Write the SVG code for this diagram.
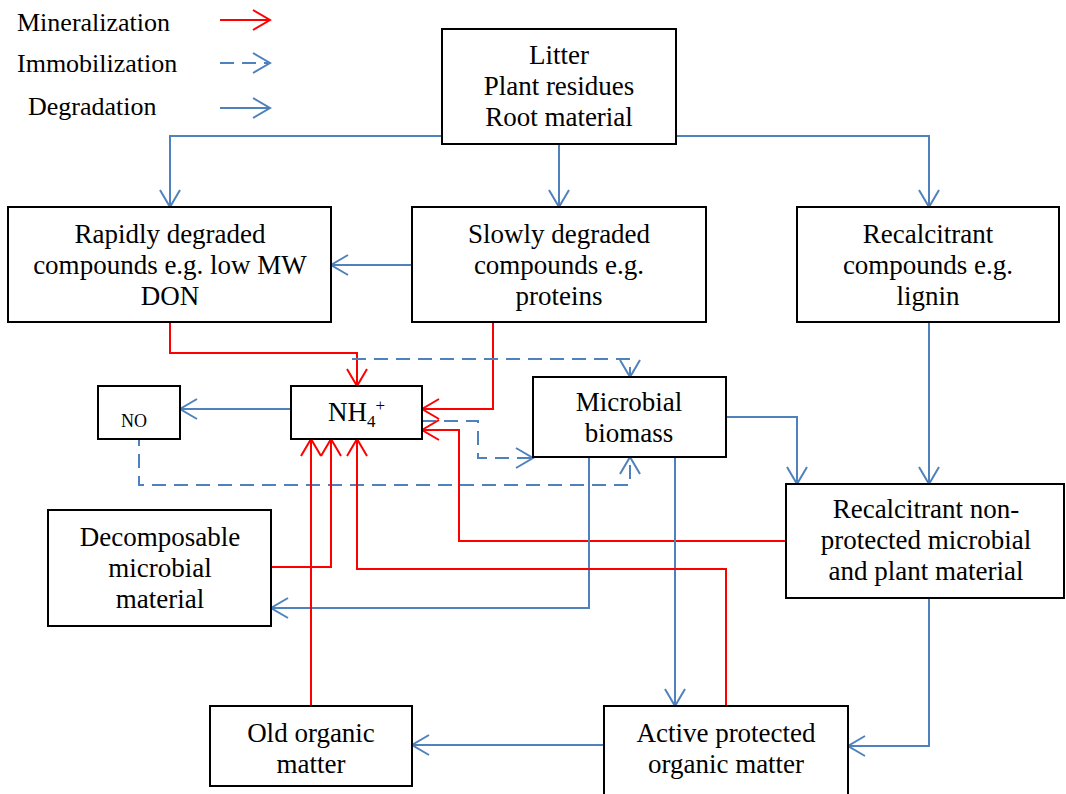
<svg xmlns="http://www.w3.org/2000/svg" width="1066" height="794" viewBox="0 0 1066 794" font-family="'Liberation Serif', 'Times New Roman', Tinos, 'DejaVu Serif', serif">
<style>
.box{fill:#fff;stroke:#000;stroke-width:2}
.t{font-size:27px;fill:#000;text-anchor:middle}
.lg{font-size:26px;fill:#000}
.red{fill:none;stroke:#FF0000;stroke-width:2;marker-end:url(#ar)}
.blue{fill:none;stroke:#4F81BD;stroke-width:2;marker-end:url(#ab)}
.dash{fill:none;stroke:#4F81BD;stroke-width:2;stroke-dasharray:14 8;marker-end:url(#ab)}
</style>
<defs>
<marker id="ar" markerUnits="userSpaceOnUse" viewBox="-20 -12 24 24" markerWidth="24" markerHeight="24" refX="0" refY="0" orient="auto" overflow="visible">
<path d="M-17,-10 L0,0 L-17,10" fill="none" stroke="#FF0000" stroke-width="2"/>
</marker>
<marker id="ab" markerUnits="userSpaceOnUse" viewBox="-20 -12 24 24" markerWidth="24" markerHeight="24" refX="0" refY="0" orient="auto" overflow="visible">
<path d="M-17,-10 L0,0 L-17,10" fill="none" stroke="#4F81BD" stroke-width="2"/>
</marker>
</defs>
<rect width="1066" height="794" fill="#fff"/>

<g id="legend">
<text class="lg" x="17" y="31">Mineralization</text>
<text class="lg" x="17" y="72">Immobilization</text>
<text class="lg" x="28" y="115">Degradation</text>
<path class="red" d="M220,20 L270,20"/>
<path class="dash" d="M220,63 L270,63"/>
<path class="blue" d="M220,108 L270,108"/>
</g>

<g id="connectors">
<path class="blue" d="M442,136 L170,136 L170,207"/>
<path class="blue" d="M559,144 L559,207"/>
<path class="blue" d="M676,136 L929,136 L929,207"/>
<path class="blue" d="M412,265 L331,265"/>
<path class="blue" d="M929,322 L929,484"/>
<path class="red" d="M170,322 L170,353 L357,353 L357,386"/>
<path class="red" d="M493,322 L493,409 L422,409"/>
<path class="blue" d="M291,409 L180,409"/>
<path class="dash" d="M352,359 L630,359 L630,377"/>
<path class="dash" d="M422,421 L478,421 L478,458 L533,458"/>
<path class="dash" d="M139,432 L139,485 L630,485 L630,457"/>
<path class="red" d="M786,541 L459,541 L459,430 L422,430"/>
<path class="blue" d="M726,417 L797,417 L797,484"/>
<path class="blue" d="M589,457 L589,608 L271,608"/>
<path class="blue" d="M675,457 L675,706"/>
<path class="red" d="M271,567 L331,567 L331,439"/>
<path class="red" d="M726,706 L726,569 L357,569 L357,439"/>
<path class="red" d="M311,706 L311,439"/>
<path class="blue" d="M929,598 L929,746 L848,746"/>
<path class="blue" d="M604,745 L412,745"/>
</g>

<g id="litter">
<rect class="box" x="442" y="29" width="234" height="115"/>
<text class="t" x="559" y="64">Litter</text>
<text class="t" x="559" y="95">Plant residues</text>
<text class="t" x="559" y="126">Root material</text>
</g>
<g id="rapid">
<rect class="box" x="8" y="207" width="323" height="115"/>
<text class="t" x="170" y="243">Rapidly degraded</text>
<text class="t" x="170" y="274">compounds e.g. low MW</text>
<text class="t" x="170" y="305">DON</text>
</g>
<g id="slow">
<rect class="box" x="412" y="207" width="294" height="115"/>
<text class="t" x="559" y="243">Slowly degraded</text>
<text class="t" x="559" y="274">compounds e.g.</text>
<text class="t" x="559" y="305">proteins</text>
</g>
<g id="recalcitrant">
<rect class="box" x="797" y="207" width="262" height="115"/>
<text class="t" x="928" y="243">Recalcitrant</text>
<text class="t" x="928" y="274">compounds e.g.</text>
<text class="t" x="928" y="305">lignin</text>
</g>
<g id="no">
<rect class="box" x="98" y="386" width="82" height="53"/>
<text class="t" x="134" y="427" style="font-size:18px">NO</text>
</g>
<g id="nh4">
<rect class="box" x="291" y="386" width="131" height="53"/>
<text class="lg" x="328" y="421" style="font-size:27px">NH<tspan style="font-size:17px" dy="6">4</tspan><tspan style="font-size:17px" dy="-16">+</tspan></text>
</g>
<g id="microbial">
<rect class="box" x="533" y="377" width="193" height="80"/>
<text class="t" x="629" y="411">Microbial</text>
<text class="t" x="629" y="442">biomass</text>
</g>
<g id="decomposable">
<rect class="box" x="48" y="510" width="223" height="116"/>
<text class="t" x="160" y="546">Decomposable</text>
<text class="t" x="160" y="577">microbial</text>
<text class="t" x="160" y="608">material</text>
</g>
<g id="nonprotected">
<rect class="box" x="786" y="484" width="278" height="114"/>
<text class="t" x="926" y="518">Recalcitrant non-</text>
<text class="t" x="926" y="549">protected microbial</text>
<text class="t" x="926" y="580">and plant material</text>
</g>
<g id="old">
<rect class="box" x="210" y="706" width="202" height="80"/>
<text class="t" x="311" y="742">Old organic</text>
<text class="t" x="311" y="773">matter</text>
</g>
<g id="active">
<rect class="box" x="604" y="706" width="244" height="100"/>
<text class="t" x="726" y="742">Active protected</text>
<text class="t" x="726" y="773">organic matter</text>
</g>
</svg>
